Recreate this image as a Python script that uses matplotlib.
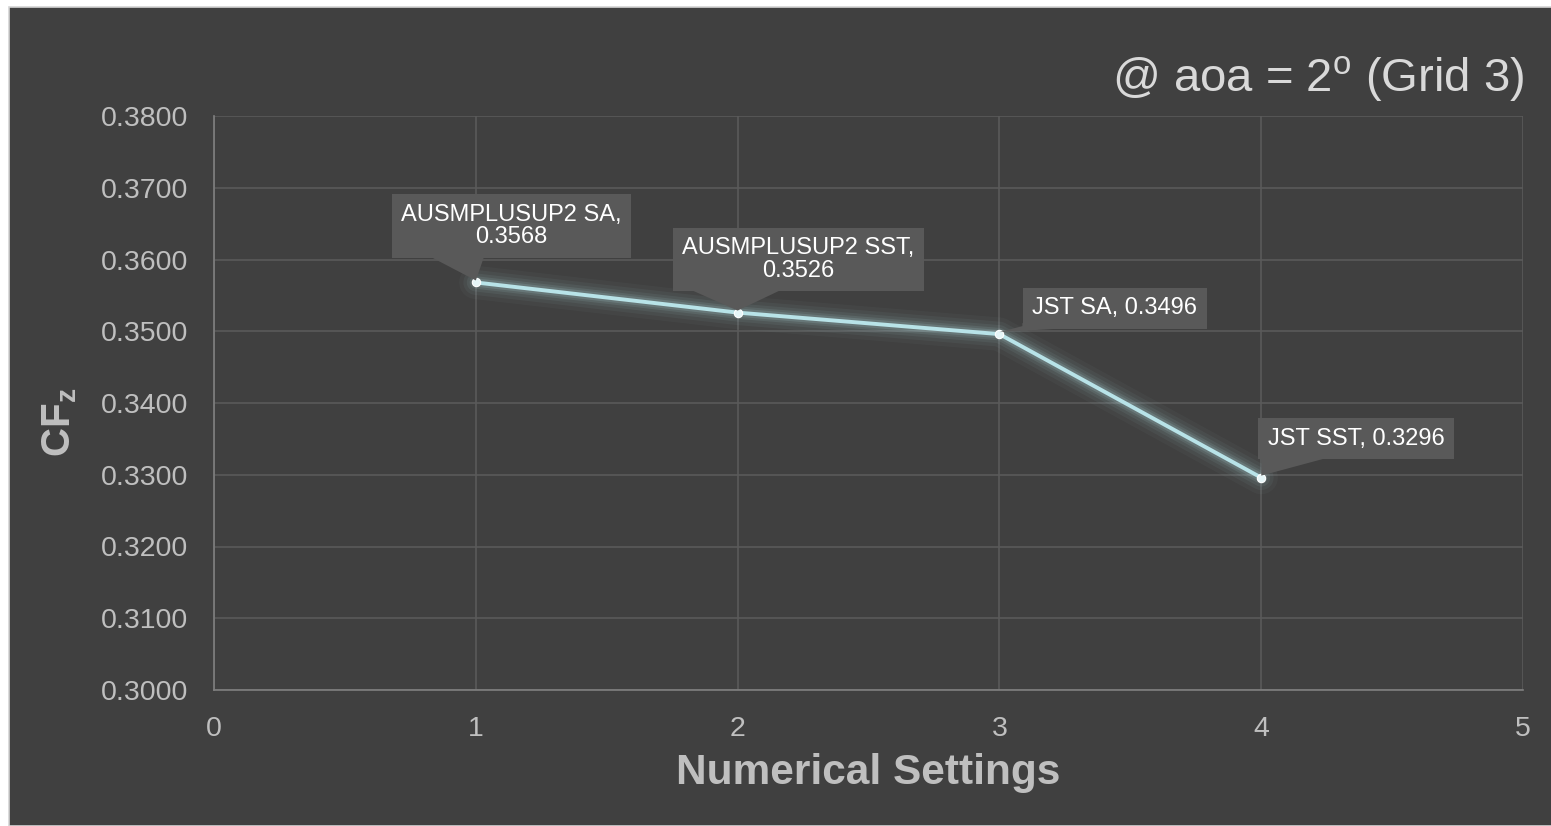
import matplotlib.pyplot as plt
from matplotlib.patches import Rectangle, Polygon
from matplotlib.transforms import Affine2D, ScaledTranslation

plt.rcParams['font.family'] = ['Liberation Sans', 'DejaVu Sans']
plt.rcParams['mathtext.fontset'] = 'custom'
plt.rcParams['mathtext.rm'] = 'Liberation Sans'
plt.rcParams['mathtext.bf'] = 'Liberation Sans:bold'

# data
settings = [1, 2, 3, 4]
cfz = [0.3568, 0.3526, 0.3496, 0.3296]
names = ["AUSMPLUSUP2 SA", "AUSMPLUSUP2 SST", "JST SA", "JST SST"]
xticks = [0, 1, 2, 3, 4, 5]
yticks = [0.30, 0.31, 0.32, 0.33, 0.34, 0.35, 0.36, 0.37, 0.38]

BG = '#404040'
GRID = '#5a5a5a'
TXT = '#bfbfbf'
LINE = '#b8e3e8'
BOX = '#595959'

W, H = 1551, 826
fig = plt.figure(figsize=(W / 100, H / 100), dpi=100, facecolor='white')
fig.patches.append(Rectangle((8.5 / W, 0), 1, 1 - 6.5 / H, transform=fig.transFigure,
                             facecolor=BG, edgecolor='#d4d4d4', lw=1.2, zorder=-10))
ax = fig.add_axes([214 / W, 1 - 690 / H, (1523 - 214) / W, (690 - 116) / H])
ax.set_facecolor(BG)

ax.set_xlim(0, 5)
ax.set_ylim(0.30, 0.38)
ax.set_xticks(xticks)
ax.set_yticks(yticks)
ax.set_yticklabels([f"{v:.4f}" for v in yticks])
ax.grid(True, color=GRID, lw=1.2)
ax.set_axisbelow(True)
for s in ['top', 'right']:
    ax.spines[s].set_visible(False)
for s in ['left', 'bottom']:
    ax.spines[s].set_color('#808080')
    ax.spines[s].set_linewidth(1.2)
ax.tick_params(length=0, labelsize=20.5, labelcolor=TXT, pad=18.5)

# soft glow under the series
for lw, a in [(24, 0.035), (18, 0.05), (13, 0.07), (9, 0.1), (6, 0.15)]:
    ax.plot(settings, cfz, color=LINE, lw=lw, alpha=a, solid_capstyle='round', zorder=2)
ax.plot(settings, cfz, color=LINE, lw=2.8, zorder=3,
        marker='o', markersize=6, markerfacecolor='#e6f6f8', markeredgecolor='white', markeredgewidth=0.8)

# callouts: box centre offset (px) and pointer base (x0, x1, y) offsets (px) from the point
callouts = [
    (f"{names[0]},\n{cfz[0]:.4f}", (35.5, 56.5), (-44, 8, 25)),
    (f"{names[1]},\n{cfz[1]:.4f}", (60.5, 53), (-45, 42, 22)),
    (f"{names[2]}, {cfz[2]:.4f}", (115.5, 26), (23, 104, 8)),
    (f"{names[3]}, {cfz[3]:.4f}", (95, 39), (1, 78, 23)),
]
for x, y, (txt, off, (b0, b1, by)) in zip(settings, cfz, callouts):
    ax.annotate(txt, xy=(x, y), xytext=off, textcoords='offset pixels',
                ha='center', va='center', fontsize=17, color='white', linespacing=1.05,
                bbox=dict(boxstyle='square,pad=0.4', fc=BOX, ec='none'), zorder=5)
    px = Affine2D().scale(1 / fig.dpi) + fig.dpi_scale_trans + ScaledTranslation(x, y, ax.transData)
    ax.add_patch(Polygon([(b0, by + 3), (b1, by + 3), (b1, by), (0, 2), (b0, by)], closed=True,
                         fc=BOX, ec='none', transform=px, zorder=4.9, clip_on=False))

ax.set_xlabel('Numerical Settings', fontsize=30.5, fontweight='bold', color=TXT, labelpad=8)
ax.set_ylabel(r'$\mathbf{CF_z}$', fontsize=29, color=TXT, labelpad=15.5)
ax.yaxis.label.set_y(0.466)

fig.text(1524 / W, 1 - 92 / H, r'@ aoa = 2$^{\rm o}$ (Grid 3)', ha='right', va='baseline',
         fontsize=34, color='#d9d9d9')

fig.savefig('out.png', dpi=100, facecolor='white')
